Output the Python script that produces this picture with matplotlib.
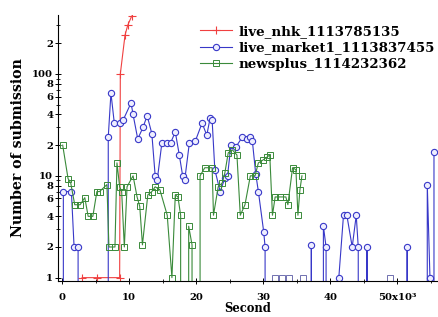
import numpy as np
import matplotlib
matplotlib.use("Agg")
import matplotlib.pyplot as plt
from matplotlib.ticker import FixedLocator, FixedFormatter, NullFormatter

plt.rcParams['font.family'] = ['DejaVu Serif']
plt.rcParams['font.weight'] = 'bold'

# time in 10^3 seconds, value = number of submissions (0 -> drawn to axis)
nhk_x = [3.0, 5.2, 8.6, 8.7, 9.4, 9.8, 10.4]
nhk_y = [1, 1, 1, 100, 240, 300, 370]

market_x = [0.0, 0.2, 1.4, 1.8, 2.4, 2.6, 6.8, 6.9, 7.3, 7.8, 8.7, 9.1, 10.3, 10.6,
            11.3, 12.1, 12.7, 13.4, 13.9, 14.2, 14.9, 15.7, 16.2, 16.9, 17.5, 18.0,
            18.3, 19.0, 19.9, 20.9, 21.6, 22.1, 22.4, 22.8, 23.6, 24.3, 24.7, 25.2,
            25.9, 26.9, 27.6, 28.0, 28.4, 28.9, 29.3, 30.1, 30.3, 30.5, 37.1, 37.2,
            37.3, 38.9, 39.0, 39.4, 39.5, 41.3, 42.0, 42.5, 43.3, 43.9, 44.2, 44.3,
            45.4, 45.5, 45.6, 51.4, 51.5, 51.6, 54.4, 54.5, 54.9, 55.4, 55.5]
market_y = [0, 7, 7, 2, 2, 0, 0, 24, 65, 33, 33, 35, 52, 40,
            23, 30, 39, 26, 10, 9, 21, 21, 21, 27, 16, 10,
            9, 21, 22, 33, 25, 37, 35, 11.5, 7, 9.5, 10, 20,
            19, 24, 23, 24, 22, 10.5, 7, 2.8, 2, 0, 0, 2.1,
            0, 0, 3.2, 2, 0, 1, 4.1, 4.1, 2, 4.1, 2, 0,
            0, 2, 0, 0, 2, 0, 0, 8.2, 1, 0, 17]

news_x = [0.1, 0.9, 1.3, 1.9, 2.7, 3.4, 3.9, 4.6, 5.2, 5.6, 6.7, 7.0, 7.9, 8.2,
          8.6, 8.9, 9.3, 9.7, 10.6, 11.2, 11.6, 12.0, 12.8, 13.4, 13.9, 14.6,
          15.7, 16.4, 16.9, 17.3, 17.7, 18.2, 18.9, 19.4, 19.6, 20.5, 20.6, 21.3,
          22.4, 22.6, 23.3, 23.9, 24.3, 24.8, 25.4, 26.1, 26.6, 27.3, 28.1, 28.8,
          29.3, 30.0, 30.6, 31.0, 31.4, 31.8, 32.5, 33.4, 33.7, 34.4, 34.9, 35.2,
          35.5, 35.8]
news_y = [20, 9.4, 8.5, 5.2, 5.2, 6.1, 4, 4, 7, 7, 8.2, 2, 2, 13.4,
          7.8, 7, 2, 7.8, 10, 6.2, 5, 2.1, 6.5, 7, 7.8, 7.3,
          4.1, 1, 6.5, 6.2, 4.1, 0, 3.2, 2.1, 0, 0, 10, 12,
          12, 4.1, 7.8, 8.5, 10.7, 16.8, 18, 16, 4.1, 5.2, 10, 10,
          13.4, 14.3, 15.3, 16, 4.1, 6.2, 6.2, 6.2, 5.2, 12, 11.5, 4.1,
          7.3, 10]

# lone markers sitting on the axis
lone_x = [31.8, 32.8, 33.9, 36.0, 49.0]
lone_y = [1, 1, 1, 1, 1]

ytick_vals = [1, 2, 4, 6, 8, 10, 20, 40, 60, 80, 100, 200]
ytick_labels = ['1', '2', '4', '6', '8', '10', '2', '4', '6', '8', '100', '2']
xtick_vals = [0, 10, 20, 30, 40, 50]
xtick_labels = ['0', '10', '20', '30', '40', '50x10³']

red = '#f04040'
blue = '#3838c8'
green = '#3a8a3a'

fig = plt.figure(figsize=(4.38, 3.17), dpi=100)
ax = fig.add_axes([0.1324, 0.114, 0.8676, 0.839])
ax.set_yscale('log', nonpositive='clip')

ax.plot(nhk_x, nhk_y, color=red, lw=0.8, marker='+', ms=6, mew=0.8,
        label='live_nhk_1113785135')
ax.plot(market_x, market_y, color=blue, lw=0.8, marker='o', ms=4.5, mew=0.8,
        mfc='#eeeeff', mec=blue, label='live_market1_1113837455')
ax.plot(news_x, news_y, color=green, lw=0.8, marker='s', ms=4.5, mew=0.7,
        mfc='none', mec=green, label='newsplus_1114232362')
ax.plot(lone_x, lone_y, ls='none', marker='s', ms=4.5, mew=0.7,
        mfc='none', mec='#7070b0')

ax.set_xlim(-0.6, 56.1)
ax.set_ylim(0.93, 380)

ax.spines['top'].set_visible(False)
ax.spines['right'].set_visible(False)
ax.spines['left'].set_linewidth(0.8)
ax.spines['bottom'].set_linewidth(0.8)

ax.yaxis.set_major_locator(FixedLocator(ytick_vals))
ax.yaxis.set_major_formatter(FixedFormatter(ytick_labels))
ax.yaxis.set_minor_locator(FixedLocator([3, 5, 7, 9, 30, 50, 70, 90, 300]))
ax.yaxis.set_minor_formatter(NullFormatter())
ax.set_xticks(xtick_vals)
ax.set_xticklabels(xtick_labels)
ax.xaxis.set_minor_locator(FixedLocator([5, 15, 25, 35, 45, 55]))
ax.tick_params(which='major', direction='inout', length=5, width=0.7, labelsize=7.2)
ax.tick_params(which='minor', direction='inout', length=3, width=0.6)
ax.tick_params(axis='x', pad=6)
ax.tick_params(axis='y', pad=1)

ax.set_xlabel('Second', fontsize=8.3, fontweight='bold', labelpad=0)
ax.set_ylabel('Number of submission', fontsize=10.2, fontweight='bold', labelpad=5)

ax.legend(loc='upper left', bbox_to_anchor=(200 / 438, 1 - 25 / 317),
          bbox_transform=fig.transFigure, frameon=False,
          fontsize=9.6, handlelength=2.4, numpoints=1, labelspacing=0.26,
          handletextpad=0.5, borderaxespad=0, borderpad=0)

fig.savefig('out.png', dpi=100)
